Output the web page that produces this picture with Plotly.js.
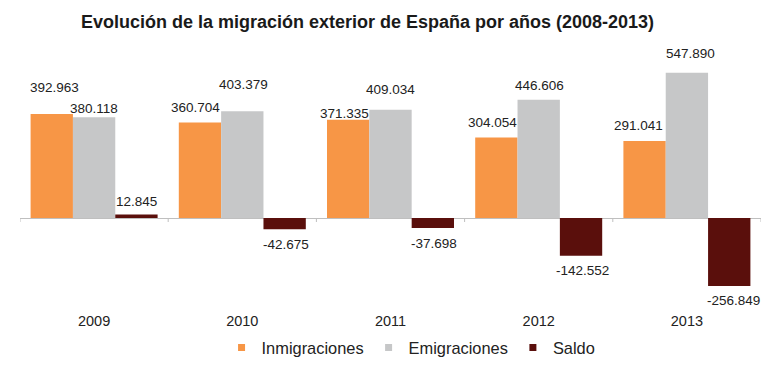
<!DOCTYPE html>
<html>
<head>
<meta charset="utf-8">
<script src="https://cdn.plot.ly/plotly-3.0.1.min.js"></script>
<style>html,body{margin:0;padding:0;background:#fff;}#chart{width:776px;height:377px;}</style>
</head>
<body>
<div id="chart"></div>
<script>
// ---- data ----
var years = ["2009", "2010", "2011", "2012", "2013"];
var inmigraciones = [392963, 360704, 371335, 304054, 291041];
var emigraciones  = [380118, 403379, 409034, 446606, 547890];
var saldo         = [12845, -42675, -37698, -142552, -256849];
var seriesNames = ["Inmigraciones", "Emigraciones", "Saldo"];

// ---- styling ----
var colors = ["#F79646", "#C6C7C8", "#5A0F0C"];
var FONT = "Liberation Sans, Arial, sans-serif";
var bargap = 0.143;
// label nudges (px): distance beyond bar end, horizontal shift
var labelGap = [[26, 15, 6, 15, 15], [9, 27, 20, 14, 19], [13, 15, 15, 15, 14]];
var labelDx  = [[3, -4, -4, -4, -6], [0, 1, 0, 1, 4], [0, 1, 1, 1, 4]];

function fmt(v) {
  var s = Math.abs(v).toString();
  var out = s.replace(/\B(?=(\d{3})+(?!\d))/g, ".");
  return (v < 0 ? "-" : "") + out;
}

var idx = years.map(function (_, i) { return i; });
var series = [inmigraciones, emigraciones, saldo];

var traces = [];
series.forEach(function (vals, k) {
  traces.push({
    type: "bar", x: idx, y: vals, name: seriesNames[k],
    marker: { color: colors[k], line: { width: 0 } },
    showlegend: false, hoverinfo: "skip"
  });
});
// legend proxies (small squares)
series.forEach(function (vals, k) {
  traces.push({
    type: "scatter", mode: "markers", x: [null], y: [null], name: seriesNames[k],
    marker: { symbol: "square", size: 7, color: colors[k] },
    showlegend: true, hoverinfo: "skip"
  });
});

var barW = (1 - bargap) / 3;
var annotations = [];
series.forEach(function (vals, k) {
  vals.forEach(function (v, i) {
    annotations.push({
      xref: "x", yref: "y",
      x: i + (k - 1) * barW, y: v,
      text: fmt(v), showarrow: false,
      xanchor: "center", yanchor: "middle",
      xshift: labelDx[k][i],
      yshift: (v >= 0 ? 1 : -1) * labelGap[k][i],
      font: { family: FONT, size: 13.5, color: "#222" }
    });
  });
});

var shapes = [];
for (var i = 0; i <= years.length; i++) {
  shapes.push({
    type: "line", xref: "x", yref: "y", ysizemode: "pixel", yanchor: 0,
    x0: i - 0.5, x1: i - 0.5, y0: 0, y1: -4,
    line: { color: "#BFBFBF", width: 1 }, layer: "below"
  });
}

var layout = {
  width: 776, height: 377,
  margin: { l: 20, r: 15, t: 55, b: 65, pad: 0 },
  paper_bgcolor: "#fff", plot_bgcolor: "#fff",
  font: { family: FONT, color: "#222" },
  title: {
    text: "<b>Evolución de la migración exterior de España por años (2008-2013)</b>",
    font: { family: FONT, size: 18, color: "#1a1a1a" },
    x: 0.4736, xref: "container", xanchor: "center",
    y: 0.942, yref: "container", yanchor: "middle"
  },
  barmode: "group", bargap: bargap, bargroupgap: 0,
  xaxis: {
    type: "linear", range: [-0.5, years.length - 0.5],
    tickvals: idx, ticktext: years,
    showgrid: false, zeroline: false, showline: false, ticks: "",
    tickfont: { family: FONT, size: 14.5, color: "#222" }
  },
  yaxis: {
    range: [-347200, 615300],
    showgrid: false, showticklabels: false, ticks: "",
    zeroline: true, zerolinecolor: "#BFBFBF", zerolinewidth: 1,
    showline: false
  },
  showlegend: true,
  legend: {
    orientation: "h", x: 0.272, xanchor: "left", y: -0.148, yanchor: "middle",
    font: { family: FONT, size: 16.4, color: "#222" },
    bgcolor: "rgba(0,0,0,0)", borderwidth: 0
  },
  annotations: annotations,
  shapes: shapes,
  hovermode: false
};

Plotly.newPlot("chart", traces, layout, { staticPlot: true, displayModeBar: false });
</script>
</body>
</html>
